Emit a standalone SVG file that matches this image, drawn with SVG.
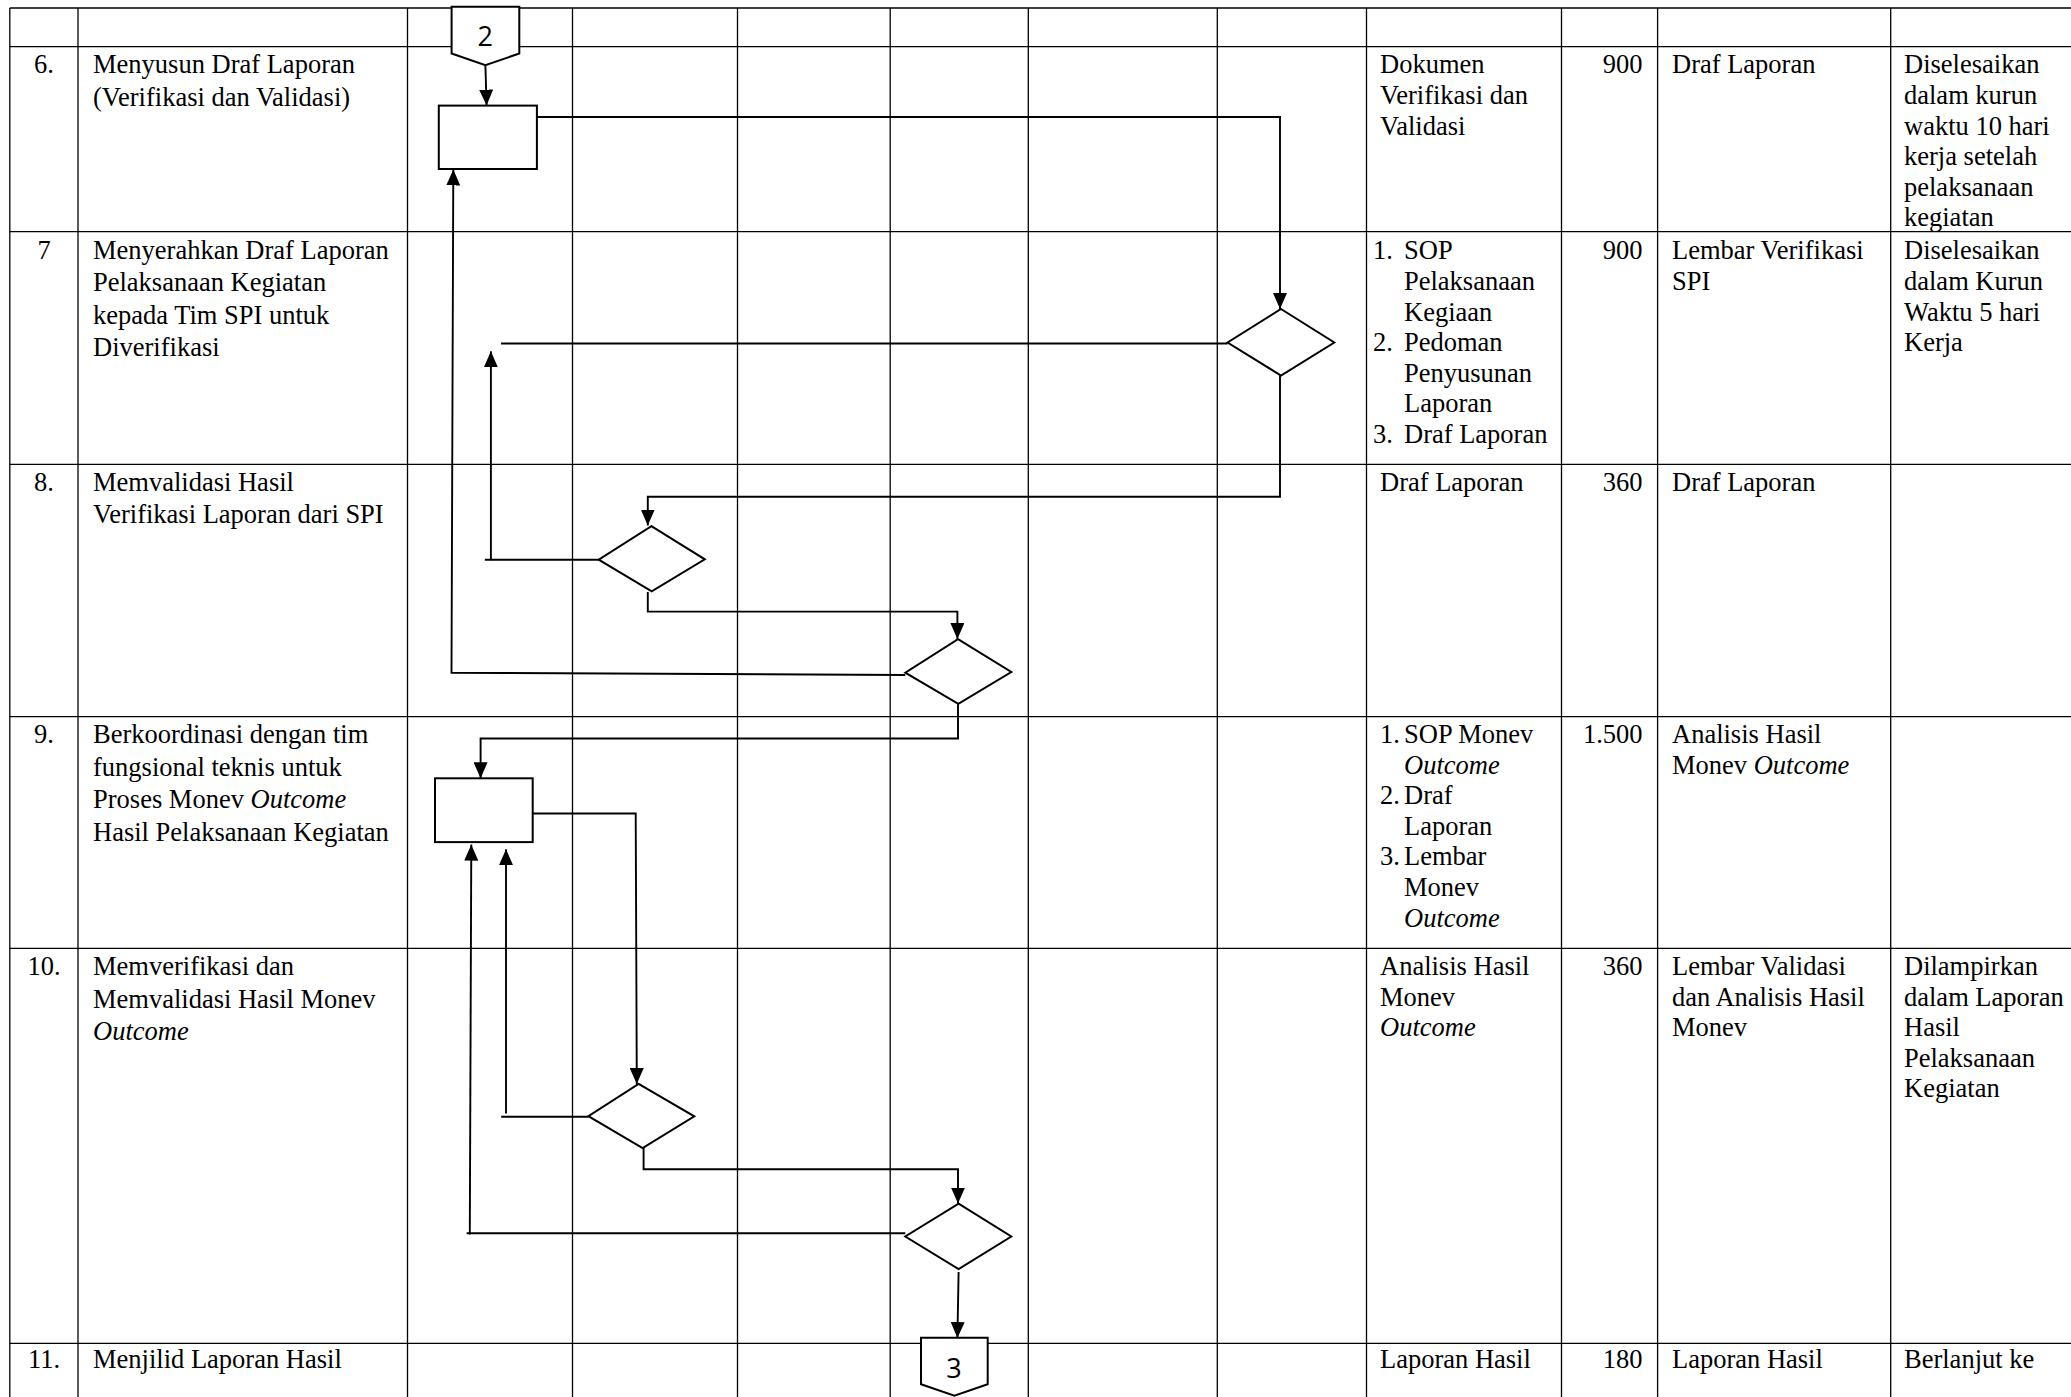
<svg xmlns="http://www.w3.org/2000/svg" width="2071" height="1397" viewBox="0 0 2071 1397">
<defs>
<style>
.grid line{stroke:#000;stroke-width:1.3}
.t{font-family:"Liberation Serif","Times New Roman",serif;font-size:26.5px;fill:#000}
.c{text-anchor:middle}
.r{text-anchor:end}
.it{font-style:italic}
.shape{fill:#fff;stroke:#000;stroke-width:2}
.conn path{fill:none;stroke:#000;stroke-width:1.9}
.lbl{font-family:"Open Sans","Noto Sans",sans-serif;font-size:27px;text-anchor:middle;fill:#000}
</style>
<marker id="ah" viewBox="0 0 16 14" refX="16" refY="7" markerWidth="16" markerHeight="14" markerUnits="userSpaceOnUse" orient="auto">
<path d="M0,0 L16,7 L0,14 z" fill="#000"/>
</marker>
</defs>
<rect width="2071" height="1397" fill="#fff"/>
<g class="grid" id="table">
<line x1="9.8" y1="8" x2="2071" y2="8"/>
<line x1="9.8" y1="46.7" x2="2071" y2="46.7"/>
<line x1="9.8" y1="231.7" x2="2071" y2="231.7"/>
<line x1="9.8" y1="464.3" x2="2071" y2="464.3"/>
<line x1="9.8" y1="716.7" x2="2071" y2="716.7"/>
<line x1="9.8" y1="948.3" x2="2071" y2="948.3"/>
<line x1="9.8" y1="1343.3" x2="2071" y2="1343.3"/>
<line x1="9.8" y1="8" x2="9.8" y2="1397"/>
<line x1="78" y1="8" x2="78" y2="1397"/>
<line x1="407.5" y1="8" x2="407.5" y2="1397"/>
<line x1="572.5" y1="8" x2="572.5" y2="1397"/>
<line x1="737.5" y1="8" x2="737.5" y2="1397"/>
<line x1="890.2" y1="8" x2="890.2" y2="1397"/>
<line x1="1028.3" y1="8" x2="1028.3" y2="1397"/>
<line x1="1217.3" y1="8" x2="1217.3" y2="1397"/>
<line x1="1366.5" y1="8" x2="1366.5" y2="1397"/>
<line x1="1561.5" y1="8" x2="1561.5" y2="1397"/>
<line x1="1657.6" y1="8" x2="1657.6" y2="1397"/>
<line x1="1890.7" y1="8" x2="1890.7" y2="1397"/>
</g>
<g id="texts" class="t">
<text class="c" x="44" y="73.3">6.</text>
<text class="c" x="44" y="258.5">7</text>
<text class="c" x="44" y="490.5">8.</text>
<text class="c" x="44" y="743">9.</text>
<text class="c" x="44" y="975">10.</text>
<text class="c" x="44" y="1368">11.</text>
<text x="93" y="73.3">Menyusun Draf Laporan<tspan x="93" dy="32.5">(Verifikasi dan Validasi)</tspan></text>
<text x="93" y="258.5">Menyerahkan Draf Laporan<tspan x="93" dy="32.5">Pelaksanaan Kegiatan</tspan><tspan x="93" dy="32.5">kepada Tim SPI untuk</tspan><tspan x="93" dy="32.5">Diverifikasi</tspan></text>
<text x="93" y="490.5">Memvalidasi Hasil<tspan x="93" dy="32.5">Verifikasi Laporan dari SPI</tspan></text>
<text x="93" y="743">Berkoordinasi dengan tim<tspan x="93" dy="32.5">fungsional teknis untuk</tspan><tspan x="93" dy="32.5">Proses Monev <tspan class="it">Outcome</tspan></tspan><tspan x="93" dy="32.5">Hasil Pelaksanaan Kegiatan</tspan></text>
<text x="93" y="975">Memverifikasi dan<tspan x="93" dy="32.5">Memvalidasi Hasil Monev</tspan><tspan x="93" dy="32.5" class="it">Outcome</tspan></text>
<text x="93" y="1368">Menjilid Laporan Hasil</text>

<text x="1380" y="73.3">Dokumen<tspan x="1380" dy="30.6">Verifikasi dan</tspan><tspan x="1380" dy="30.6">Validasi</tspan></text>
<text x="1373" y="259.3">1.<tspan x="1404" y="259.3">SOP</tspan><tspan x="1404" dy="30.6">Pelaksanaan</tspan><tspan x="1404" dy="30.6">Kegiaan</tspan><tspan x="1373" dy="30.6">2.</tspan><tspan x="1404">Pedoman</tspan><tspan x="1404" dy="30.6">Penyusunan</tspan><tspan x="1404" dy="30.6">Laporan</tspan><tspan x="1373" dy="30.6">3.</tspan><tspan x="1404">Draf Laporan</tspan></text>
<text x="1380" y="490.5">Draf Laporan</text>
<text x="1380" y="743">1.<tspan x="1404" y="743">SOP Monev</tspan><tspan x="1404" dy="30.6" class="it">Outcome</tspan><tspan x="1380" dy="30.6">2.</tspan><tspan x="1404">Draf</tspan><tspan x="1404" dy="30.6">Laporan</tspan><tspan x="1380" dy="30.6">3.</tspan><tspan x="1404">Lembar</tspan><tspan x="1404" dy="30.6">Monev</tspan><tspan x="1404" dy="30.6" class="it">Outcome</tspan></text>
<text x="1380" y="975">Analisis Hasil<tspan x="1380" dy="30.6">Monev</tspan><tspan x="1380" dy="30.6" class="it">Outcome</tspan></text>
<text x="1380" y="1368">Laporan Hasil</text>

<text class="r" x="1642.5" y="73.3">900</text>
<text class="r" x="1642.5" y="259.3">900</text>
<text class="r" x="1642.5" y="490.5">360</text>
<text class="r" x="1642.5" y="743">1.500</text>
<text class="r" x="1642.5" y="975">360</text>
<text class="r" x="1642.5" y="1368">180</text>

<text x="1672" y="73.3">Draf Laporan</text>
<text x="1672" y="259.3">Lembar Verifikasi<tspan x="1672" dy="30.6">SPI</tspan></text>
<text x="1672" y="490.5">Draf Laporan</text>
<text x="1672" y="743">Analisis Hasil<tspan x="1672" dy="30.6">Monev <tspan class="it">Outcome</tspan></tspan></text>
<text x="1672" y="975">Lembar Validasi<tspan x="1672" dy="30.6">dan Analisis Hasil</tspan><tspan x="1672" dy="30.6">Monev</tspan></text>
<text x="1672" y="1368">Laporan Hasil</text>

<text x="1904" y="73.3">Diselesaikan<tspan x="1904" dy="30.6">dalam kurun</tspan><tspan x="1904" dy="30.6">waktu 10 hari</tspan><tspan x="1904" dy="30.6">kerja setelah</tspan><tspan x="1904" dy="30.6">pelaksanaan</tspan><tspan x="1904" dy="30.6">kegiatan</tspan></text>
<text x="1904" y="259.3">Diselesaikan<tspan x="1904" dy="30.6">dalam Kurun</tspan><tspan x="1904" dy="30.6">Waktu 5 hari</tspan><tspan x="1904" dy="30.6">Kerja</tspan></text>
<text x="1904" y="975">Dilampirkan<tspan x="1904" dy="30.6">dalam Laporan</tspan><tspan x="1904" dy="30.6">Hasil</tspan><tspan x="1904" dy="30.6">Pelaksanaan</tspan><tspan x="1904" dy="30.6">Kegiatan</tspan></text>
<text x="1904" y="1368">Berlanjut ke</text>
</g>
<g class="conn" id="connectors">
<path d="M485.4,65.5 L486.6,105.6" marker-end="url(#ah)"/>
<path d="M532,117 H1280 V309" marker-end="url(#ah)"/>
<path d="M1227.6,343.5 H501"/>
<path d="M598.7,559.7 H484.8"/>
<path d="M490.9,560.2 V351.3" marker-end="url(#ah)"/>
<path d="M1280,375.6 V496.8 H647.8 V525.5" marker-end="url(#ah)"/>
<path d="M647.8,592 V611.6 H957.4 V639" marker-end="url(#ah)"/>
<path d="M905.3,675 L451.5,672.7 L453.3,169.5" marker-end="url(#ah)"/>
<path d="M958,704 V738.5 H480.6 V778.3" marker-end="url(#ah)"/>
<path d="M532.7,813.5 H635.7 L636.8,1084" marker-end="url(#ah)"/>
<path d="M588.4,1116.7 H501.2"/>
<path d="M506,1113.5 V849.2" marker-end="url(#ah)"/>
<path d="M643.6,1148 V1169.3 H958 V1203.6" marker-end="url(#ah)"/>
<path d="M905.3,1233.3 H466.6"/>
<path d="M469.8,1234.5 L471.3,844.6" marker-end="url(#ah)"/>
<path d="M958.6,1272 L957.4,1338" marker-end="url(#ah)"/>
</g>
<g id="conn2">
<polygon class="shape" points="451.6,6.8 519.3,6.8 519.3,53.5 485.4,65.2 451.6,53.5"/>
<text class="lbl" x="485.3" y="46">2</text>
</g>
<g id="rect1"><rect class="shape" x="438.8" y="105.6" width="98.1" height="63.4"/></g>
<g id="diamondA"><polygon class="shape" points="1281,309 1334.3,342.5 1281,375.6 1227.6,342.5"/></g>
<g id="diamondB"><polygon class="shape" points="651.4,526.2 704.8,559.3 651.7,591.4 598.7,559.7"/></g>
<g id="diamondC"><polygon class="shape" points="958,639.2 1011.3,672 958.3,703.9 905.3,672.7"/></g>
<g id="rect2"><rect class="shape" x="435" y="778.3" width="97.7" height="63.8"/></g>
<g id="diamondD"><polygon class="shape" points="638.6,1083.8 694.3,1116.3 642.6,1148 588.4,1116.2"/></g>
<g id="diamondE"><polygon class="shape" points="958.6,1203.6 1011.3,1236.5 958.6,1269 905.3,1236.5"/></g>
<g id="conn3">
<polygon class="shape" points="921,1337.8 987.7,1337.8 987.7,1384.2 954.4,1395.8 921,1384.2"/>
<text class="lbl" x="954" y="1377.5">3</text>
</g>
</svg>
